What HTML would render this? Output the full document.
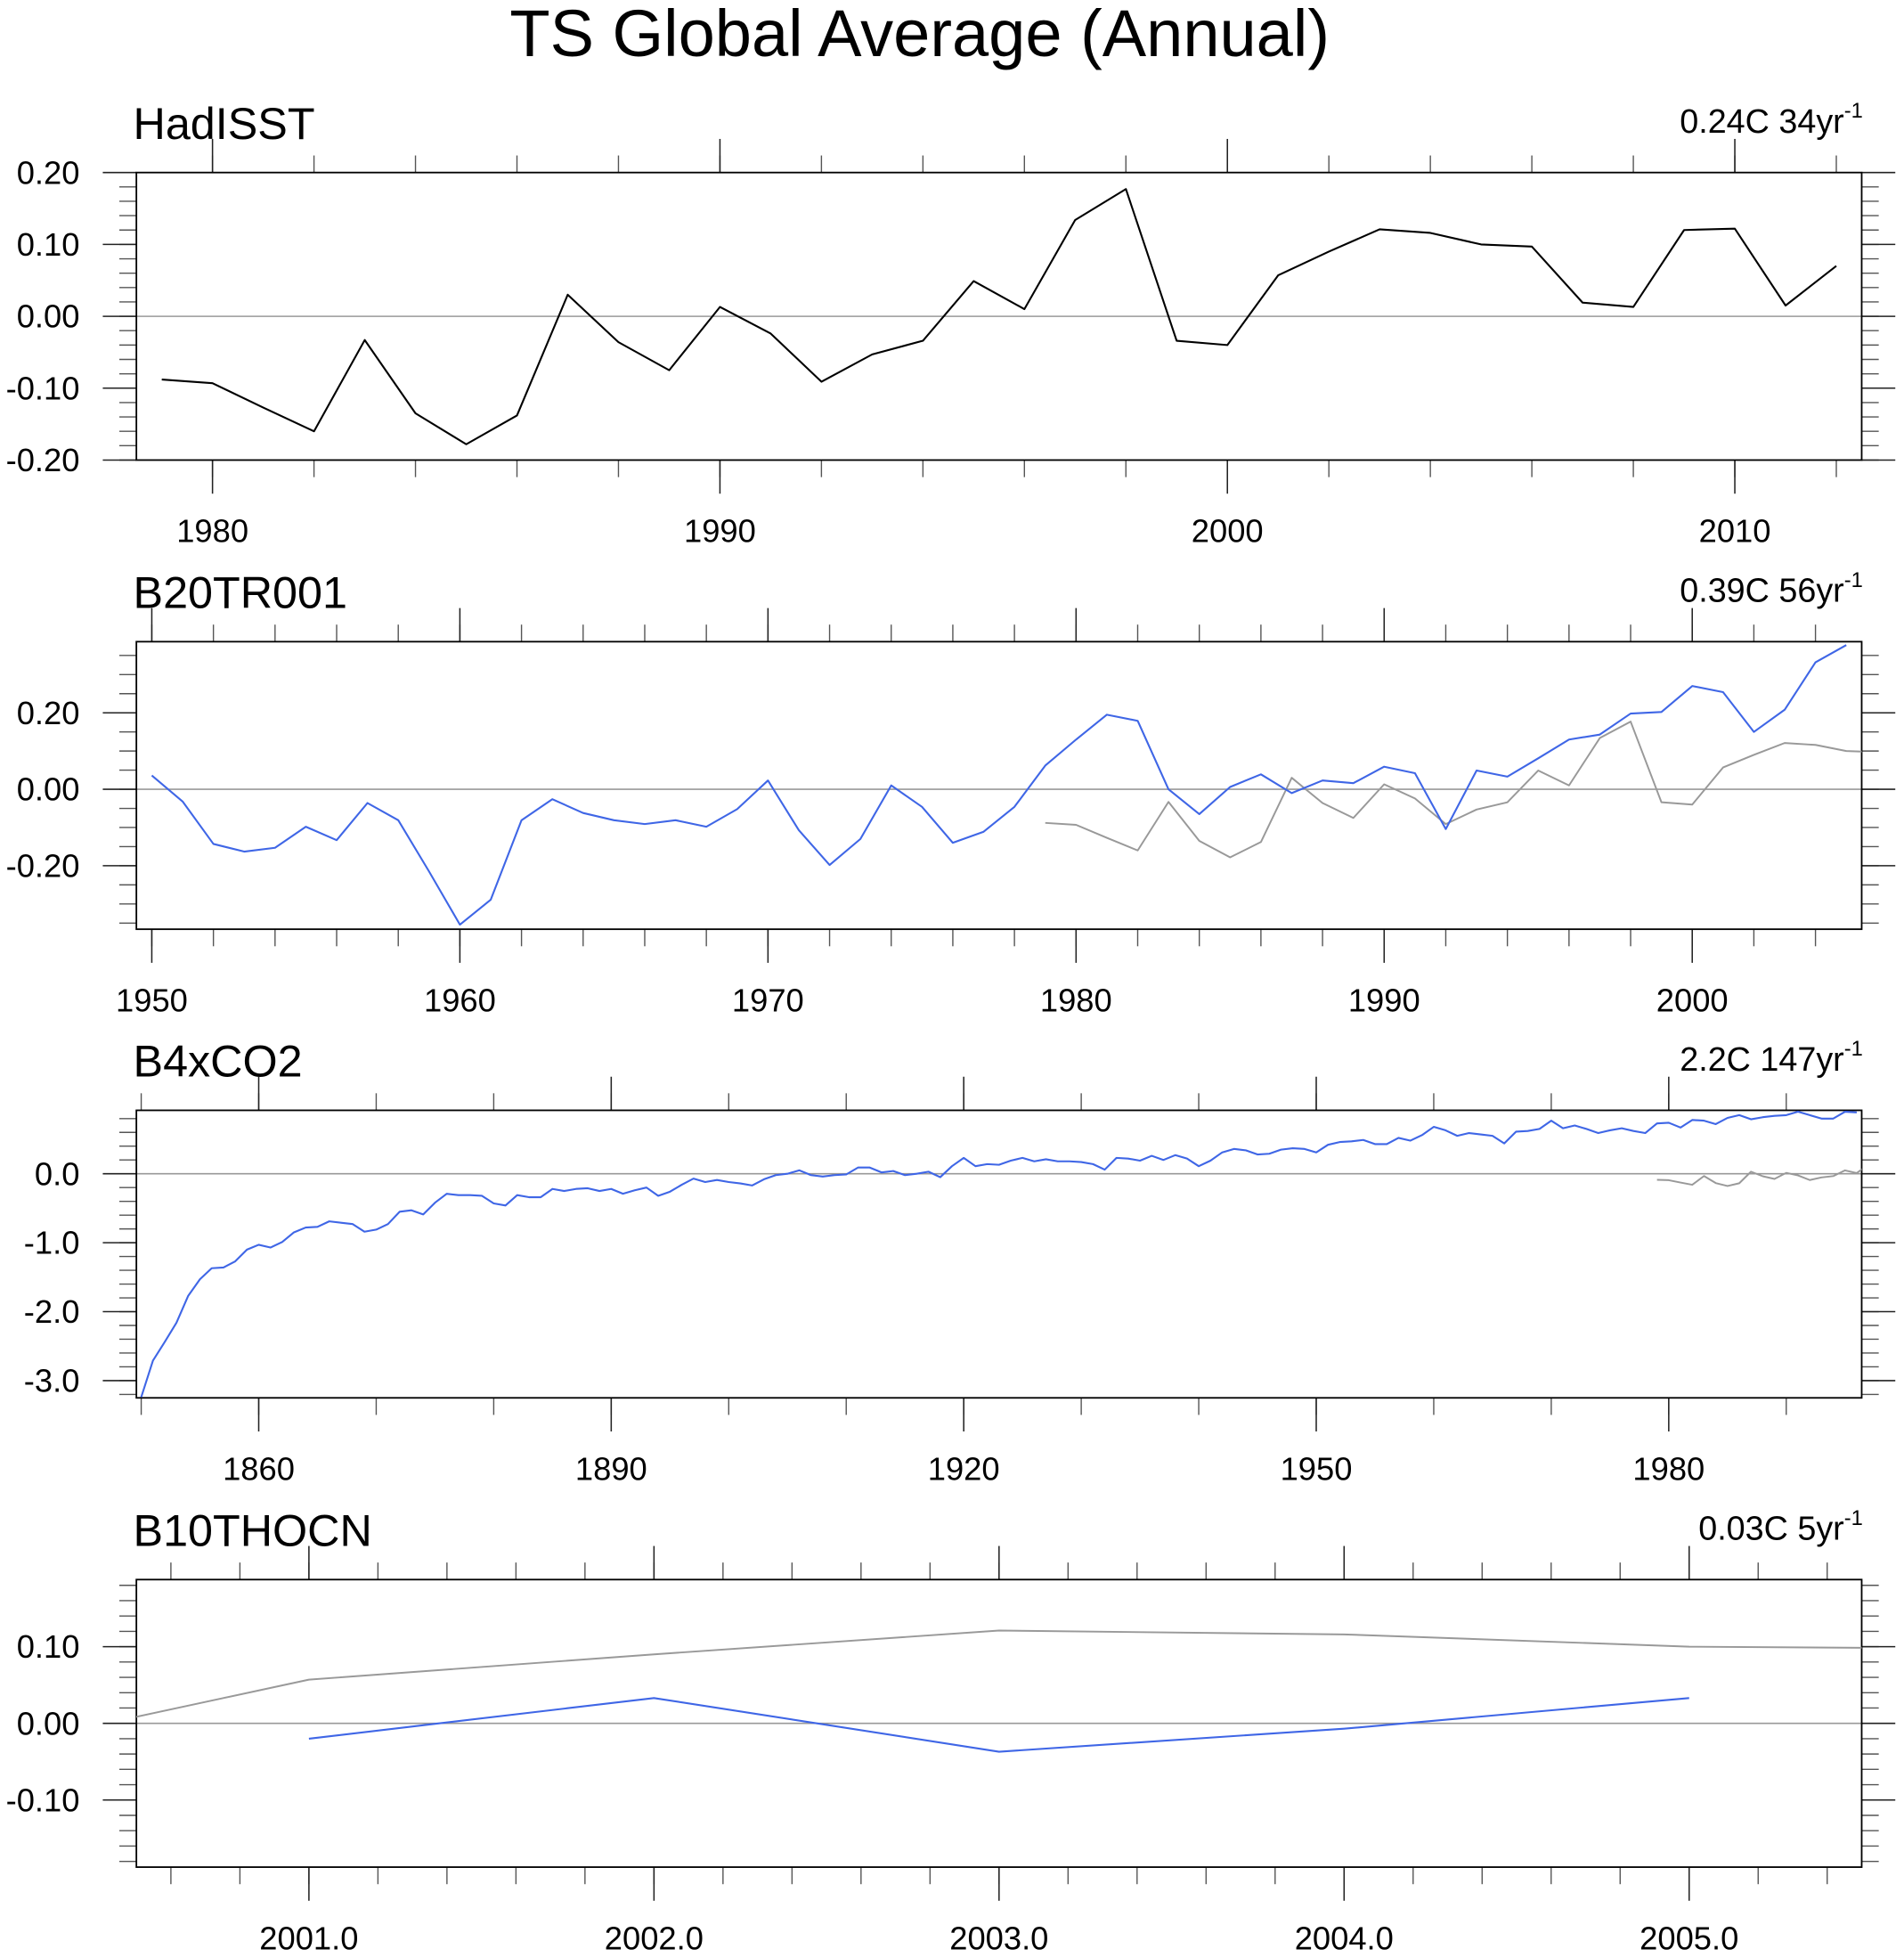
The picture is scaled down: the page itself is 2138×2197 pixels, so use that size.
<!DOCTYPE html>
<html><head><meta charset="utf-8"><title>TS Global Average (Annual)</title>
<style>html,body{margin:0;padding:0;background:#fff;}svg{display:block;font-family:"Liberation Sans",Arial,sans-serif;}</style>
</head><body>
<svg id="chart" xmlns="http://www.w3.org/2000/svg" width="2138" height="2197" viewBox="0 0 1530 1572.2">
<rect x="0" y="0" width="1530" height="1572.2" fill="#fff"/>
<text x="739" y="45" font-size="53" text-anchor="middle" fill="#000">TS Global Average (Annual)</text>
</svg>
<script>
// ---- data ----
const hadYears = [1979,1980,1981,1982,1983,1984,1985,1986,1987,1988,1989,1990,1991,1992,1993,1994,1995,1996,1997,1998,1999,2000,2001,2002,2003,2004,2005,2006,2007,2008,2009,2010,2011,2012];
const hadValues = [-0.088,-0.093,-0.127,-0.160,-0.033,-0.135,-0.178,-0.138,0.030,-0.036,-0.075,0.013,-0.024,-0.091,-0.053,-0.034,0.049,0.010,0.134,0.177,-0.034,-0.040,0.057,0.090,0.121,0.116,0.100,0.097,0.019,0.013,0.120,0.122,0.015,0.070];

const b20Start = 1950;
const b20Values = [0.036,-0.032,-0.143,-0.163,-0.153,-0.098,-0.133,-0.036,-0.081,-0.215,-0.354,-0.289,-0.081,-0.026,-0.062,-0.081,-0.091,-0.081,-0.098,-0.052,0.023,-0.107,-0.198,-0.130,0.010,-0.046,-0.140,-0.111,-0.046,0.062,0.130,0.195,0.179,0.0,-0.065,0.006,0.039,-0.010,0.023,0.016,0.059,0.042,-0.104,0.049,0.033,0.081,0.130,0.143,0.198,0.202,0.270,0.254,0.150,0.208,0.332,0.377];

const b4Start = 1850;
const b4Values = [-3.24,-2.71,-2.44,-2.16,-1.77,-1.53,-1.37,-1.36,-1.27,-1.10,-1.03,-1.07,-0.99,-0.85,-0.78,-0.77,-0.69,-0.71,-0.73,-0.84,-0.81,-0.73,-0.55,-0.53,-0.59,-0.42,-0.29,-0.31,-0.31,-0.32,-0.43,-0.46,-0.31,-0.34,-0.34,-0.22,-0.25,-0.22,-0.21,-0.25,-0.22,-0.29,-0.24,-0.20,-0.32,-0.26,-0.16,-0.07,-0.12,-0.09,-0.12,-0.14,-0.17,-0.08,-0.02,0.00,0.05,-0.02,-0.04,-0.02,-0.01,0.09,0.09,0.02,0.04,-0.02,0.00,0.03,-0.05,0.11,0.23,0.11,0.14,0.13,0.19,0.23,0.18,0.21,0.18,0.18,0.17,0.14,0.06,0.23,0.22,0.19,0.26,0.20,0.27,0.22,0.11,0.19,0.31,0.36,0.34,0.28,0.29,0.35,0.37,0.36,0.31,0.42,0.46,0.47,0.49,0.43,0.43,0.52,0.48,0.56,0.68,0.63,0.55,0.59,0.57,0.55,0.44,0.61,0.62,0.65,0.77,0.66,0.70,0.65,0.59,0.63,0.66,0.62,0.59,0.73,0.74,0.67,0.78,0.77,0.72,0.81,0.85,0.79,0.82,0.84,0.85,0.90,0.85,0.80,0.80,0.90,0.89];

const b10Years = [2001,2002,2003,2004,2005];
const b10Values = [-0.020,0.033,-0.037,-0.007,0.033];

const panelNames = ["HadISST","B20TR001","B4xCO2","B10THOCN"];
const trendValues = ["0.24C 34yr","0.39C 56yr","2.2C 147yr","0.03C 5yr"];
const p1YTicks = [-0.20,-0.10,0.00,0.10,0.20];
const p2YTicks = [-0.20,0.00,0.20];
const p3YTicks = [-3.0,-2.0,-1.0,0.0];
const p4YTicks = [-0.10,0.00,0.10];
const p1XTicks = [1980,1990,2000,2010];
const p2XTicks = [1950,1960,1970,1980,1990,2000];
const p3XTicks = [1860,1890,1920,1950,1980];
const p4XTicks = [2001.0,2002.0,2003.0,2004.0,2005.0];

// ---- layout ----
const NS = "http://www.w3.org/2000/svg";
const svg = document.getElementById('chart');
const L = 109.6, R = 1496, H = 231;
function el(tag, attrs, parent){const e=document.createElementNS(NS,tag);for(const k in attrs)e.setAttribute(k,attrs[k]);(parent||svg).appendChild(e);return e;}

const panels = [
 {top:138.6, xmin:1978.5, xmax:2012.5, ymin:-0.2, ymax:0.2, yTicks:p1YTicks, yMinor:0.02, yDec:2, xTicks:p1XTicks, xMinor:2, xMinorStart:1978, xDec:0},
 {top:515.5, xmin:1949.5, xmax:2005.5, ymin:-0.366, ymax:0.386, yTicks:p2YTicks, yMinor:0.05, yDec:2, xTicks:p2XTicks, xMinor:2, xMinorStart:1950, xDec:0},
 {top:892, xmin:1849.59, xmax:1996.42, ymin:-3.25, ymax:0.92, yTicks:p3YTicks, yMinor:0.2, yDec:1, xTicks:p3XTicks, xMinor:10, xMinorStart:1850, xDec:0},
 {top:1269, xmin:2000.5, xmax:2005.5, ymin:-0.1875, ymax:0.1875, yTicks:p4YTicks, yMinor:0.02, yDec:2, xTicks:p4XTicks, xMinor:0.2, xMinorStart:2000.6, xDec:1}
];

function fmt(v,d){let s=v.toFixed(d); if(parseFloat(s)===0) s=(0).toFixed(d); return s;}

panels.forEach((p,i)=>{
  const T=p.top, B=p.top+H;
  const xs = v => L + (v-p.xmin)/(p.xmax-p.xmin)*(R-L);
  const ys = v => B - (v-p.ymin)/(p.ymax-p.ymin)*H;
  const g = el('g',{});
  
  
  const cid='clip'+i;
  const cp=el('clipPath',{id:cid},g); el('rect',{x:L,y:T,width:R-L,height:H},cp);

  const nm = el('text',{x:107,y:T-27,'font-size':36,fill:'#000'},g);
  nm.textContent = panelNames[i];
  
  
  const tr = el('text',{x:1497,y:T-32,'font-size':27,'text-anchor':'end',fill:'#000'},g);
  
  
  tr.appendChild(document.createTextNode(trendValues[i]));
  const sup = el('tspan',{'font-size':17,dy:-12},tr); sup.textContent='-1';

  // minor y ticks
  const ystart = Math.ceil((p.ymin-1e-9)/p.yMinor)*p.yMinor;
  for(let v=ystart; v<=p.ymax+1e-9; v+=p.yMinor){
    const y=ys(v);
    el('line',{x1:L-13.7,x2:L,y1:y,y2:y,stroke:'#555','stroke-width':1},g);
    el('line',{x1:R,x2:R+13.7,y1:y,y2:y,stroke:'#555','stroke-width':1},g);
  }
  // minor x ticks
  for(let v=p.xMinorStart; v<=p.xmax+1e-9; v+=p.xMinor){
    if(v<p.xmin) continue;
    const x=xs(v);
    el('line',{x1:x,x2:x,y1:T-13.7,y2:T,stroke:'#555','stroke-width':1},g);
    el('line',{x1:x,x2:x,y1:B,y2:B+13.7,stroke:'#555','stroke-width':1},g);
  }
  // zero line
  el('line',{x1:L,x2:R,y1:ys(0),y2:ys(0),stroke:'#999','stroke-width':1.1},g);
  // major y ticks + labels
  p.yTicks.forEach(v=>{
    const y=ys(v);
    el('line',{x1:L-27,x2:L,y1:y,y2:y,stroke:'#222','stroke-width':1.1},g);
    el('line',{x1:R,x2:R+27,y1:y,y2:y,stroke:'#222','stroke-width':1.1},g);
    const t=el('text',{x:64,y:y+9,'font-size':26,'text-anchor':'end',fill:'#000'},g);
    t.textContent=fmt(v,p.yDec);
    
    
  });
  // major x ticks + labels
  p.xTicks.forEach(v=>{
    const x=xs(v);
    el('line',{x1:x,x2:x,y1:T-27,y2:T,stroke:'#222','stroke-width':1.1},g);
    el('line',{x1:x,x2:x,y1:B,y2:B+27,stroke:'#222','stroke-width':1.1},g);
    const t=el('text',{x:x,y:B+66,'font-size':26,'text-anchor':'middle',fill:'#000'},g);
    t.textContent=v.toFixed(p.xDec);
    
    
  });
  // frame
  const fr = el('rect',{x:L,y:T,width:R-L,height:H,fill:'none',stroke:'#000','stroke-width':1.3},g);
  
  

  const line=(xsArr,vals,color,w,name)=>{
    const pts=vals.map((v,k)=>xs(xsArr[k]).toFixed(2)+','+ys(v).toFixed(2)).join(' ');
    const pl=el('polyline',{points:pts,fill:'none',stroke:color,'stroke-width':w,'stroke-linejoin':'round','clip-path':'url(#'+cid+')'},g);
    
    
  };
  if(i===0){
    line(hadYears,hadValues,'#000',1.5,'hadisst-line');
  } else {
    line(hadYears,hadValues,'#999',1.4,'hadisst-reference-line');
    if(i===1) line(b20Values.map((v,k)=>b20Start+k),b20Values,'#3f66e6',1.5,'b20tr001-line');
    if(i===2) line(b4Values.map((v,k)=>b4Start+k),b4Values,'#3f66e6',1.5,'b4xco2-line');
    if(i===3) line(b10Years,b10Values,'#3f66e6',1.5,'b10thocn-line');
  }
});
</script>
</body></html>
